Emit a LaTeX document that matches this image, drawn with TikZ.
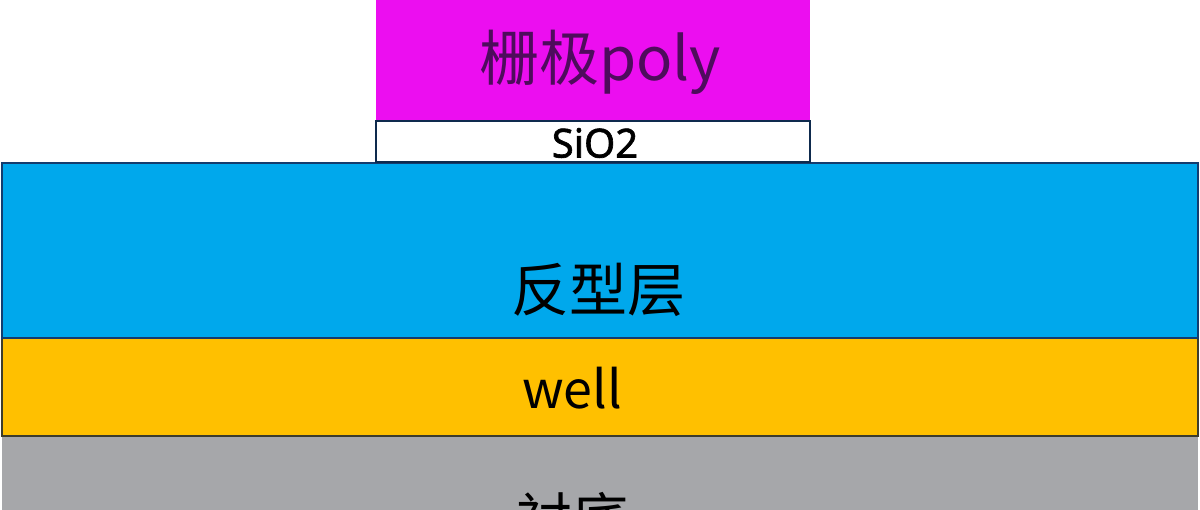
\documentclass[tikz,border=0pt]{standalone}
\usepackage{fontspec}
\setmainfont{Noto Sans CJK SC}
\newfontfamily\siofont[FakeBold=1.6]{Noto Sans}
\definecolor{polyc}{RGB}{236,14,240}
\definecolor{polytxt}{RGB}{78,12,92}
\definecolor{invc}{RGB}{0,168,236}
\definecolor{invedge}{RGB}{20,60,110}
\definecolor{wellc}{RGB}{255,192,0}
\definecolor{welledge}{RGB}{60,60,45}
\definecolor{subc}{RGB}{166,167,170}
\tikzset{
  layer/.style={draw, line width=2pt, inner sep=0pt, outer sep=0pt},
  lbl/.style={inner sep=0pt, text=black}
}
\begin{document}
\begin{tikzpicture}[x=1pt,y=-1pt]
\useasboundingbox (0,0) rectangle (1200,510);
\clip (0,0) rectangle (1200,510);
\fill[white] (0,0) rectangle (1200,510);
% substrate
\fill[subc] (2,436) rectangle (1198,530);
% layers
\draw[layer, fill=wellc, draw=welledge] (2,338) rectangle (1198,436);
\draw[layer, fill=invc, draw=invedge] (2,163) rectangle (1198,338);
\fill[polyc] (376,-2) rectangle (810,121);
\draw[layer, fill=white, draw=invedge!70!black, line width=1.5pt] (376,121) rectangle (810,162);
% labels
\node[lbl, text=polytxt, font=\fontsize{60}{60}\selectfont] (poly) at (600,62) {栅极poly};
\node[lbl, font=\siofont\fontsize{40}{40}\selectfont] (sio) at (595,143) {SiO2};
\node[lbl, font=\fontsize{58}{58}\selectfont] (inv) at (598,290) {反型层};
\node[lbl, font=\fontsize{52}{52}\selectfont] (well) at (572,388) {well};
\node[lbl, font=\fontsize{56}{56}\selectfont] (sub) at (572,518) {衬底};
\end{tikzpicture}
\end{document}
